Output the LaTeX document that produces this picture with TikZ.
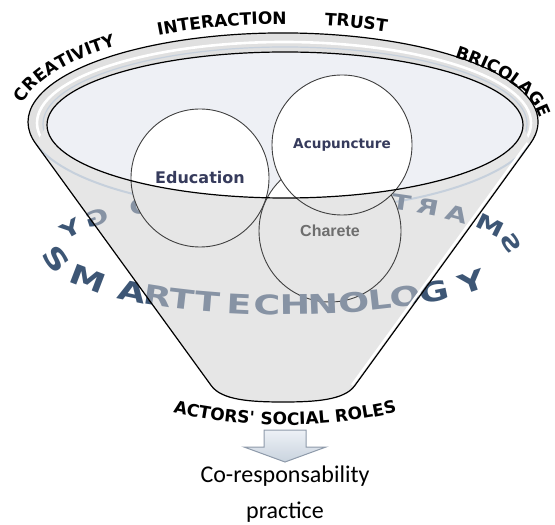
\documentclass[tikz,border=0pt]{standalone}
\usepackage{fontspec}
\usetikzlibrary{decorations.text}
\newfontfamily\comicfont{DejaVu Sans}
\newfontfamily\ringfont{DejaVu Sans}[FakeStretch=1.35]
\newfontfamily\gillfont{Carlito}
\newfontfamily\arialfont{Liberation Sans}

\definecolor{conegray}{HTML}{E6E6E6}
\definecolor{rimgray}{HTML}{E0E0E0}
\definecolor{openfill}{HTML}{EEF0F5}
\definecolor{rimblue}{HTML}{C6D0DC}
\definecolor{ringdark}{HTML}{3D5675}
\definecolor{ringlight}{HTML}{8793A4}
\definecolor{bubbletext}{HTML}{363B5C}
\definecolor{charetegray}{HTML}{6E6E6E}
\definecolor{arrowtop}{HTML}{EDF1F6}
\definecolor{arrowbot}{HTML}{C9D3DE}
\definecolor{arrowline}{HTML}{8E9AAA}

\tikzset{
  rimlabel/.style={decorate,decoration={text along path,text align=center,
    text={|\comicfont\bfseries\fontsize{8.5}{9}\selectfont|#1}}},
  frontletter/.style={inner sep=0pt,font=\ringfont\bfseries\fontsize{13.5}{14}\selectfont},
  backletter/.style={inner sep=0pt,font=\ringfont\bfseries\fontsize{10.5}{11}\selectfont},
  bubble/.style={draw=black!75,line width=0.45pt},
}

% letters of the ring, front half and mirrored back half
\newcommand\ringfront[1]{%
  \foreach \ch/\a in {S/190,M/212,A/229,R/237,T/244,T/251,E/259,C/266,H/273,N/280,O/288,L/295,O/302,G/311,Y/325}{
    \pgfmathsetmacro\rot{atan2(55*cos(\a),-230*sin(\a))}
    \node[frontletter,text=#1,rotate=\rot] at ({283+230*cos(\a)},{274+55*sin(\a)}) {\ch};}}
\newcommand\ringback[1]{%
  \foreach \ch/\a in {S/8,M/26,A/41,R/51,T/59,T/67,E/75,C/83,H/91,N/99,O/107,L/115,O/128,G/144,Y/157}{
    \pgfmathsetmacro\rot{atan2(-55*cos(\a),230*sin(\a))}
    \node[backletter,text=#1,rotate=\rot] at ({283+230*cos(\a)},{274+55*sin(\a)}) {\reflectbox{\ch}};}}

\begin{document}
\begin{tikzpicture}[x=0.5pt,y=0.5pt]
  \useasboundingbox (0,0) rectangle (555,524);
  \coordinate (L) at (35.8,380.2);
  \coordinate (R) at (530.2,380.2);
  \coordinate (edu) at (200,346);
  \coordinate (acu) at (342,379);
  \coordinate (cha) at (330,293);

  % funnel body
  \fill[conegray] (L) -- (211.5,138) .. controls (222,124) and (250,122) .. (283,122)
    .. controls (316,122) and (344,124) .. (354.5,138) -- (R)
    arc[start angle=-14.2,end angle=194.2,x radius=255,y radius=89] -- cycle;

  \ringfront{ringdark}
  \ringback{ringdark}

  % rim and opening
  \fill[rimgray] (283,402) ellipse[x radius=255,y radius=89];
  \draw[white,line width=1.3pt] (284,401) ellipse[x radius=247,y radius=81];
  \draw[rimblue,line width=0.6pt] (285,400) ellipse[x radius=242,y radius=77];
  \fill[openfill] (285,399) ellipse[x radius=238,y radius=73];

  \filldraw[bubble,fill=white] (cha) circle[radius=71];
  \filldraw[bubble,fill=white] (edu) circle[radius=69];
  \filldraw[bubble,fill=white] (acu) circle[radius=70];

  % front wall of the funnel below the opening
  \begin{scope}
    \clip (47,399) arc[start angle=180,end angle=360,x radius=238,y radius=73]
      -- (R) -- (354.5,138) .. controls (344,124) and (316,122) .. (283,122)
      .. controls (250,122) and (222,124) .. (211.5,138) -- (L) -- cycle;
    \fill[conegray] (0,0) rectangle (555,524);
    \draw[rimblue,line width=1pt] (283,402) ++(194.2:255 and 89)
      arc[start angle=194.2,end angle=345.8,x radius=255,y radius=89];
    \ringback{ringlight}
    \filldraw[bubble,fill=conegray] (cha) circle[radius=71];
    \filldraw[bubble,fill=conegray] (edu) circle[radius=69];
    \filldraw[bubble,fill=conegray] (acu) circle[radius=70];
    \ringfront{ringlight}
  \end{scope}

  \draw[black,line width=0.6pt] (285,399) ellipse[x radius=238,y radius=73];
  \draw[white,line width=1.2pt] (352,139) -- (527.5,381);
  \draw[black,line width=0.6pt] (L) -- (211.5,138) .. controls (222,124) and (250,122) .. (283,122)
    .. controls (316,122) and (344,124) .. (354.5,138) -- (R)
    arc[start angle=-14.2,end angle=194.2,x radius=255,y radius=89];

  \node[font=\comicfont\bfseries\fontsize{8}{9}\selectfont,text=bubbletext] (education) at (edu) {Education};
  \node[font=\comicfont\bfseries\fontsize{6.8}{8}\selectfont,text=bubbletext] (acupuncture) at (acu) {Acupuncture};
  \node[font=\arialfont\bfseries\fontsize{8}{9}\selectfont,text=charetegray] (charete) at (cha) {Charete};

  % words round the rim
  \path[rimlabel={CREATIVITY}] (283,402) ++(180:265 and 98)
    arc[start angle=180,end angle=124,x radius=265,y radius=98];
  \path[rimlabel={INTERACTION}] (283,402) ++(135:265 and 98)
    arc[start angle=135,end angle=75,x radius=265,y radius=98];
  \path[rimlabel={TRUST}] (283,402) ++(95:265 and 98)
    arc[start angle=95,end angle=51,x radius=265,y radius=98];
  \path[rimlabel={BRICOLAGE}] (283,396) ++(55:258 and 95)
    arc[start angle=55,end angle=-9,x radius=258,y radius=95];
  \path[rimlabel={ACTORS' SOCIAL ROLES}] (285,596) ++(250:497)
    arc[start angle=250,end angle=290,radius=497];

  \draw[arrowline,line width=0.5pt,top color=arrowtop,bottom color=arrowbot]
    (264,94) -- (306,94) -- (306,77) -- (326,77) -- (285,62) -- (244,77) -- (264,77) -- cycle;
  \node[font=\gillfont\fontsize{12}{18}\selectfont,align=center] (practice) at (285,30)
    {Co-responsability\\practice};
\end{tikzpicture}
\end{document}
